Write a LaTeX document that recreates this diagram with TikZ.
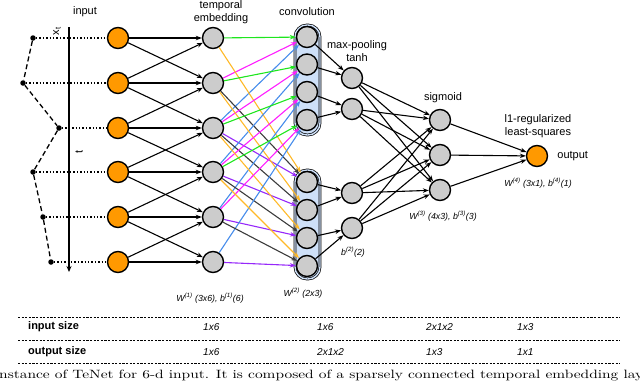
\documentclass[tikz,border=0pt]{standalone}
\usepackage{fontspec}
\setsansfont{Liberation Sans}
\usepackage{graphicx}
\usetikzlibrary{arrows.meta, positioning}
\definecolor{inpfill}{RGB}{255,153,0}
\definecolor{hidfill}{RGB}{204,204,204}
\definecolor{convfill}{RGB}{206,224,248}
\definecolor{wgreen}{RGB}{30,230,30}
\definecolor{wmagenta}{RGB}{255,30,255}
\definecolor{wblue}{RGB}{70,140,235}
\definecolor{worange}{RGB}{255,185,40}
\definecolor{wgray}{RGB}{60,60,60}
\definecolor{wpurple}{RGB}{150,40,250}

\begin{document}
\begin{tikzpicture}[x=1pt, y=-1pt,
    lbl/.style={font=\sffamily\fontsize{11}{13}\selectfont, inner sep=1pt, align=center},
    wlbl/.style={font=\sffamily\itshape\fontsize{8.8}{10}\selectfont, inner sep=1pt},
    tabhead/.style={font=\sffamily\bfseries\fontsize{11}{13}\selectfont, anchor=west, inner sep=0pt},
    tabval/.style={font=\sffamily\itshape\fontsize{10}{12}\selectfont, anchor=west, inner sep=0pt},
    innode/.style={circle, draw, line width=1.4pt, fill=inpfill, minimum size=21pt, inner sep=0pt},
    hidnode/.style={innode, fill=hidfill},
    sample/.style={circle, fill=black, minimum size=5.5pt, inner sep=0pt},
    conn/.style={line width=1.1pt, -{Stealth[length=6pt, width=4.5pt]}},
    wconn/.style={conn, line width=1.1pt, draw=#1},
    convbox/.style={line width=0.7pt, double=convfill, double distance=1.4pt, fill=convfill, rounded corners=12pt},
    tabrule/.style={line width=0.7pt, dash pattern=on 2.2pt off 1.4pt}
  ]
  \useasboundingbox (0,0) rectangle (640,381);

  % conv groups, behind the nodes
  \draw[convbox] (295,25) rectangle (320,135);
  \draw[convbox] (295,170) rectangle (320,279);

  % Time axis
  \coordinate (axtop) at (69,27);
  \coordinate (axbot) at (69,272);
  \draw[line width=1.6pt, -{Stealth[length=6pt, width=5pt]}] (axtop) -- (axbot);
  \node[lbl, rotate=90] (xlbl) at (57,31) {x\textsubscript{t}};
  \node[lbl, rotate=90] (tlbl) at (79,152) {t};

  % Samples, input and temporal embedding
  \foreach \k/\sx/\y in {1/33/38, 2/23/83, 3/59/128, 4/33/172, 5/43/217, 6/51/262} {
    \node[sample] (s\k) at (\sx,\y) {};
    \node[innode] (i\k) at (118,\y) {};
    \node[hidnode] (e\k) at (213,\y) {};
  }
  \draw[line width=1.3pt, dash pattern=on 5pt off 3pt] (s1) -- (s2) -- (s3) -- (s4) -- (s5) -- (s6);
  \foreach \k in {1,...,6}
    \draw[line width=1.4pt, dotted] (s\k) -- (i\k);

  % Convolution
  \foreach \k/\y in {1/37, 2/64.5, 3/92, 4/120}
    \node[hidnode] (c\k) at (307,\y) {};
  \foreach \k/\y in {1/182, 2/210, 3/238, 4/266}
    \node[hidnode] (d\k) at (307,\y) {};

  % Max-pooling, sigmoid, output
  \node[hidnode] (p1) at (352,78) {};
  \node[hidnode] (p2) at (352,109) {};
  \node[hidnode] (p3) at (352,193) {};
  \node[hidnode] (p4) at (352,228) {};
  \node[hidnode] (g1) at (440,120) {};
  \node[hidnode] (g2) at (440,155) {};
  \node[hidnode] (g3) at (440,190) {};
  \node[innode] (out) at (537,156) {};

  % input -> temporal embedding
  \foreach \a/\b in {1/1,1/2,2/1,2/2,2/3,3/2,3/3,3/4,4/3,4/4,4/5,5/4,5/5,5/6,6/5,6/6}
    \draw[conn] (i\a) -- (e\b);

  % temporal embedding -> convolution (two filters)
  \foreach \k in {1,...,4} {
    \pgfmathtruncatemacro\m{\k+1}
    \pgfmathtruncatemacro\n{\k+2}
    \draw[wconn=wgreen] (e\k) -- (c\k);
    \draw[wconn=wmagenta] (e\m) -- (c\k);
    \draw[wconn=wblue] (e\n) -- (c\k);
    \draw[wconn=worange] (e\k) -- (d\k);
    \draw[wconn=wgray] (e\m) -- (d\k);
    \draw[wconn=wpurple] (e\n) -- (d\k);
  }

  % pooling
  \foreach \a/\b in {c1/p1, c2/p1, c3/p2, c4/p2, d1/p3, d2/p3, d3/p4, d4/p4}
    \draw[conn] (\a) -- (\b);
  \foreach \a in {1,...,4}
    \foreach \b in {1,2,3}
      \draw[conn] (p\a) -- (g\b);
  \foreach \b in {1,2,3}
    \draw[conn] (g\b) -- (out);

  % Layer labels
  \node[lbl] (lbinput) at (85,12) {input};
  \node[lbl] (lbemb) at (221,12) {temporal\\embedding};
  \node[lbl] (lbconv) at (307,12) {convolution};
  \node[lbl] (lbpool) at (357,51) {max-pooling\\tanh};
  \node[lbl] (lbsig) at (443,98) {sigmoid};
  \node[lbl] (lbls) at (538,126) {l1-regularized\\least-squares};
  \node[lbl, right=8pt of out] (lbout) {output};

  % Weights
  \node[wlbl] (wone) at (210,298) {W\textsuperscript{(1)} (3x6), b\textsuperscript{(1)}(6)};
  \node[wlbl] (wtwo) at (303,293) {W\textsuperscript{(2)} (2x3)};
  \node[wlbl] (btwo) at (353,252) {b\textsuperscript{(2)}(2)};
  \node[wlbl] (wthree) at (443,216) {W\textsuperscript{(3)} (4x3), b\textsuperscript{(3)}(3)};
  \node[wlbl] (wfour) at (538,183) {W\textsuperscript{(4)} (3x1), b\textsuperscript{(4)}(1)};

  % Size table
  \foreach \y in {317, 340, 363}
    \draw[tabrule] (18,\y) -- (620,\y);
  \node[tabhead] (hin) at (28,327) {input size};
  \node[tabhead] (hout) at (28,352) {output size};
  \node[tabval] (in1) at (203,327) {1x6};
  \node[tabval] (in2) at (317,327) {1x6};
  \node[tabval] (in3) at (426,327) {2x1x2};
  \node[tabval] (in4) at (517,327) {1x3};
  \node[tabval] (out1) at (203,352) {1x6};
  \node[tabval] (out2) at (317,352) {2x1x2};
  \node[tabval] (out3) at (426,352) {1x3};
  \node[tabval] (out4) at (517,352) {1x1};

  % caption, cut by the page
  \node[anchor=base west, inner sep=0pt] (capt) at (-1,378)
    {\resizebox{644pt}{8.5pt}{nstance of TeNet for 6-d input. It is composed of a sparsely connected temporal embedding lay}};
\end{tikzpicture}
\end{document}
